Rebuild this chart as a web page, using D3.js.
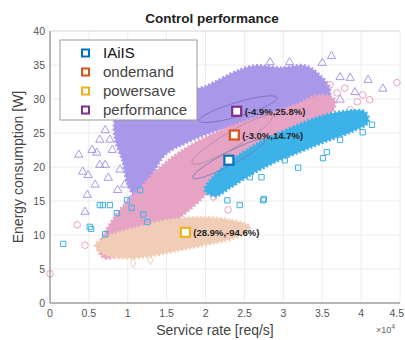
<!DOCTYPE html>
<html><head><meta charset="utf-8">
<script src="https://cdn.jsdelivr.net/npm/d3@7"></script>
<style>body{margin:0;background:#fff;}svg{display:block;font-family:Arial,"Liberation Sans",Helvetica,sans-serif;}</style>
</head><body><svg id="c" width="405" height="340"></svg>
<script>
// ---- data ----
const categories = ["IAiIS", "ondemand", "powersave", "performance"];
const xTicks = [0, 0.5, 1, 1.5, 2, 2.5, 3, 3.5, 4, 4.5];
const yTicks = [0, 5, 10, 15, 20, 25, 30, 35, 40];
const meanX = [2.30, 2.37, 1.74, 2.40];
const meanY = [21.0, 24.7, 10.4, 28.2];
const meanLabels = ["", "(-3.0%,14.7%)", "(28.9%,-94.6%)", "(-4.9%,25.8%)"];
// dense cloud outlines (service rate x1e4, energy W)
const cloudIAiIS = [[1.99,16.6],[2.12,18.8],[2.34,21.0],[2.57,22.8],[2.83,24.4],[3.15,26.0],[3.47,27.4],[3.79,28.2],[4.05,28.1],[4.09,26.6],[3.86,25.1],[3.53,23.7],[3.21,22.2],[2.89,20.7],[2.57,18.8],[2.31,16.9],[2.12,15.7]];
const cloudOndemand = [[0.62,7.8],[0.71,10.4],[0.90,13.7],[1.16,16.9],[1.41,19.9],[1.67,22.2],[1.99,24.3],[2.38,26.2],[2.76,27.6],[3.15,29.1],[3.47,30.6],[3.66,29.9],[3.60,27.6],[3.21,26.2],[2.70,23.2],[2.38,20.3],[2.12,17.4],[1.86,14.4],[1.54,11.5],[1.22,9.3],[0.90,7.1],[0.71,6.6]];
const cloudPowersave = [[0.58,8.5],[0.77,9.9],[1.09,11.0],[1.48,12.1],[1.93,12.6],[2.31,12.2],[2.57,11.2],[2.44,9.9],[2.06,8.7],[1.67,7.8],[1.29,6.9],[0.96,6.6],[0.71,7.1]];
const cloudPerformance = [[0.84,27.2],[1.03,29.9],[1.54,31.3],[1.93,31.6],[2.12,32.5],[2.38,34.0],[2.63,34.9],[2.96,34.6],[3.28,34.9],[3.47,33.5],[3.60,31.3],[3.53,29.1],[3.21,28.4],[2.83,27.6],[2.44,26.2],[2.06,25.0],[1.74,23.5],[1.48,21.8],[1.29,18.5],[1.10,15.7],[1.00,17.5],[0.93,21.0],[0.84,24.0]];
// scattered samples outside the dense clouds
const ptsIAiIS = [[0.17,8.7],[0.53,10.9],[0.71,10.1],[0.68,14.4],[0.86,13.2],[0.64,14.4],[0.77,14.4],[0.51,11.2],[0.99,15.1],[1.25,11.9],[1.16,16.6],[3.19,19.9],[2.75,15.3],[2.72,18.5],[3.51,21.3],[3.56,22.2],[4.14,26.2],[4.02,25.1],[3.86,25.7],[2.28,15.1],[2.44,14.4],[2.74,15.1],[2.57,18.5],[3.02,21.0],[3.73,24.0],[3.92,27.2],[1.05,14.0],[1.20,13.0]];
const ptsOndemand = [[0.0,4.3],[0.45,8.5],[0.35,11.5],[0.93,7.1],[2.31,17.6],[2.29,13.7],[2.10,15.6],[1.86,15.1],[4.46,32.4],[3.95,29.6],[3.69,30.9],[4.02,30.6],[3.86,28.4],[4.11,29.9],[3.60,32.1],[3.79,31.6]];
const ptsPowersave = [[1.07,5.9],[1.29,6.3]];
const ptsPerformance = [[0.37,21.8],[0.42,19.3],[0.48,15.9],[0.45,13.4],[0.58,17.4],[0.60,22.1],[0.77,24.0],[0.90,19.6],[0.71,20.3],[0.71,25.4],[0.64,24.0],[0.80,22.5],[0.96,17.4],[0.87,16.6],[1.03,15.1],[0.75,18.4],[0.64,20.3],[0.49,18.8],[0.54,22.5],[3.62,36.3],[3.50,35.3],[3.73,33.2],[3.86,33.1],[4.09,32.8],[4.28,31.5],[3.73,29.9],[3.92,31.0],[3.08,35.4],[2.83,35.4]];
// covariance ellipses: center, major half-axis, minor half-axis (data units)
const ellIAiIS = [[2.30,21.2],[0.463,2.79],[0.039,-0.85]];
const ellOndemand = [[2.34,24.0],[0.514,3.46],[0.052,-1.01]];
const ellPerformance = [[2.42,28.5],[0.50,1.70],[0.026,-0.98]];

// ---- styles ----
const meanColor = ["#0072BD","#D95319","#EDB120","#7E2F8E"];
const cloudColor = ["#3DB2E8","#E7A3C4","#F1CDB7","#A998EA"];
const ellColor = ["#6a7fb5","#b98aa8","#7f6cc0"];

const svg = d3.select("#c");
const x = d3.scaleLinear().domain([0,4.5]).range([50,400]);
const y = d3.scaleLinear().domain([0,40]).range([303,31]);

// grid
const g = svg.append("g");
g.selectAll("line.gx").data(xTicks).join("line").attr("x1",d=>x(d)).attr("x2",d=>x(d)).attr("y1",y(0)).attr("y2",y(40)).attr("stroke","#ececec");
g.selectAll("line.gy").data(yTicks).join("line").attr("x1",x(0)).attr("x2",x(4.5)).attr("y1",d=>y(d)).attr("y2",d=>y(d)).attr("stroke","#ececec");

const line = d3.line().x(d=>x(d[0])).y(d=>y(d[1])).curve(d3.curveCatmullRomClosed.alpha(0.5));
const layers = [
  {cloud:cloudPerformance, pts:ptsPerformance, c:cloudColor[3], shape:"tri"},
  {cloud:cloudOndemand, pts:ptsOndemand, c:cloudColor[1], shape:"circ"},
  {cloud:cloudPowersave, pts:ptsPowersave, c:cloudColor[2], shape:"dia"},
  {cloud:cloudIAiIS, pts:ptsIAiIS, c:cloudColor[0], shape:"sq"}
];
const sym = {tri:d3.symbolTriangle, circ:d3.symbolCircle, dia:d3.symbolDiamond, sq:d3.symbolSquare};
const symSize = {tri:30, circ:34, dia:24, sq:28};
layers.forEach(L=>{
  svg.append("path").attr("d",line(L.cloud)).attr("fill",L.c).attr("stroke",L.c).attr("stroke-width",3).attr("stroke-linejoin","round").attr("stroke-dasharray","2,2");
  svg.append("g").selectAll("path").data(L.pts).join("path")
    .attr("transform",d=>`translate(${x(d[0])},${y(d[1])})`)
    .attr("d",d3.symbol().type(sym[L.shape]).size(symSize[L.shape]))
    .attr("fill","none").attr("stroke",L.c).attr("stroke-width",1);
});

// ellipses
const ells = [ellIAiIS, ellOndemand, ellPerformance];
ells.forEach((e,i)=>{
  const pts = d3.range(0,64).map(k=>{const t=k/64*2*Math.PI; return [e[0][0]+e[1][0]*Math.cos(t)+e[2][0]*Math.sin(t), e[0][1]+e[1][1]*Math.cos(t)+e[2][1]*Math.sin(t)];});
  svg.append("path").attr("d",d3.line().x(d=>x(d[0])).y(d=>y(d[1])).curve(d3.curveLinearClosed)(pts))
    .attr("fill","none").attr("stroke",ellColor[i]).attr("stroke-width",1).attr("opacity",0.9);
});

// axes box
svg.append("line").attr("x1",x(0)).attr("x2",x(0)).attr("y1",y(0)).attr("y2",y(40)).attr("stroke","#777");
svg.append("line").attr("x1",x(0)).attr("x2",x(4.5)).attr("y1",y(0)).attr("y2",y(0)).attr("stroke","#777");
svg.append("line").attr("x1",x(0)).attr("x2",x(4.5)).attr("y1",y(40)).attr("y2",y(40)).attr("stroke","#ddd");
// ticks
svg.selectAll("text.xt").data(xTicks).join("text").attr("x",d=>d===4.5?404:x(d)).attr("y",317).attr("text-anchor",d=>d===4.5?"end":"middle").attr("font-size",10.5).attr("fill","#555").text(d=>d);
svg.selectAll("text.yt").data(yTicks).join("text").attr("x",45).attr("y",d=>y(d)+3.5).attr("text-anchor","end").attr("font-size",10.5).attr("fill","#555").text(d=>d);

// mean markers
categories.forEach((c,i)=>{
  svg.append("rect").attr("x",x(meanX[i])-4.5).attr("y",y(meanY[i])-4.5).attr("width",9).attr("height",9)
    .attr("fill","#fff").attr("stroke",meanColor[i]).attr("stroke-width",2.2);
  if(meanLabels[i]) svg.append("text").attr("x",x(meanX[i])+8).attr("y",y(meanY[i])+3.5).attr("font-size",9.5).attr("font-weight","bold").attr("fill","#222").text(meanLabels[i]);
});

// legend
const lg = svg.append("g");
lg.append("rect").attr("x",60).attr("y",40).attr("width",137).attr("height",80).attr("fill","#fff").attr("stroke","#999");
categories.forEach((c,i)=>{
  const yy = 53 + i*19;
  lg.append("rect").attr("x",82).attr("y",yy-3.5).attr("width",7).attr("height",7).attr("fill","#fff").attr("stroke",meanColor[i]).attr("stroke-width",2);
  lg.append("text").attr("x",103).attr("y",yy+5).attr("font-size",15).attr("fill",i===0?"#111":"#444").text(c);
});

// titles
svg.append("text").attr("x",212).attr("y",23).attr("text-anchor","middle").attr("font-size",13.5).attr("font-weight","bold").attr("fill","#222").text("Control performance");
svg.append("text").attr("x",215).attr("y",335).attr("text-anchor","middle").attr("font-size",14).attr("fill","#444").text("Service rate [req/s]");
svg.append("text").attr("transform","translate(23,167) rotate(-90)").attr("text-anchor","middle").attr("font-size",14).attr("fill","#444").text("Energy consumption [W]");
const ex = svg.append("text").attr("x",376).attr("y",333).attr("font-size",9).attr("fill","#666");
ex.append("tspan").text("×10");
ex.append("tspan").attr("dy",-4).attr("font-size",7).text("4");
</script></body></html>
